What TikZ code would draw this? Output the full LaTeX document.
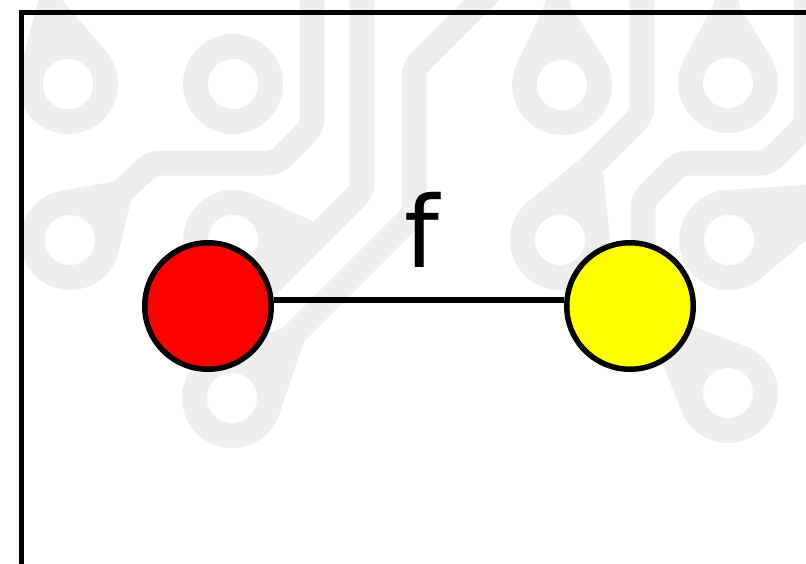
\documentclass[tikz,border=0pt]{standalone}
\usepackage{fontspec}
\setmainfont{DejaVu Sans}
\usetikzlibrary{calc}
\definecolor{tracegray}{RGB}{238,238,238}
\definecolor{nodered}{RGB}{255,0,0}
\definecolor{nodeyellow}{RGB}{255,255,0}
\tikzset{
  trace/.style={draw=tracegray, line width=25pt, line join=round, line cap=round, rounded corners=8pt},
  hole/.style={fill=white},
  vertex/.style={circle, draw=black, line width=5.5pt, minimum size=126.5pt, inner sep=0pt},
  edgeline/.style={draw=black, line width=5.5pt},
  flabel/.style={font=\fontsize{99}{110}\selectfont, anchor=base west, inner sep=0pt},
  frame/.style={draw=black, line width=4.8pt}
}
\newcommand\teardrop[2]{%
  \fill[tracegray] let \p1=($(#2)-(#1)$), \n1={veclen(\x1,\y1)}, \n2={acos(37/\n1)},
    \n3={\n2-180}, \n4={180-\n2}, \n5={-\n2} in
    ($(#1)!50pt!\n2:(#2)$) -- ($(#2)!12.5pt!\n3:(#1)$) -- ($(#2)!12.5pt!\n4:(#1)$) -- ($(#1)!50pt!\n5:(#2)$) -- cycle;
  \fill[tracegray] (#1) circle[radius=50pt];
  \fill[tracegray] (#2) circle[radius=12.5pt];
}
\begin{document}
\begin{tikzpicture}[x=1pt, y=-1pt]
\useasboundingbox (0,0) rectangle (806,563);
\clip (0,0) rectangle (806,563);
% background circuit traces
\draw[trace] (312,-20) -- (312,127) -- (276,163) -- (152,163) -- (120,193);
\draw[trace] (362,-20) -- (362,191) -- (250,303);
\draw[trace] (502,-20) -- (414,68) -- (414,214) -- (292,336);
\draw[trace] (642,-20) -- (642,115) -- (590,167);
\draw[trace] (806,-20) -- (806,125) -- (768,163) -- (680,163) -- (643,200) -- (643,310) -- (662,328);
\draw[trace] (50,5) -- (50,-20);
\draw[trace] (557,8) -- (557,-20);
\draw[trace] (726,8) -- (726,-20);
\draw[trace] (840,195) -- (900,170);
\teardrop{68,84}{50,5}
\teardrop{70,240}{120,193}
\teardrop{233,240}{315,236}
\teardrop{232,398}{292,338}
\teardrop{562,85}{557,8}
\teardrop{728,83}{726,8}
\teardrop{560,240}{590,167}
\teardrop{729,240}{840,195}
\teardrop{728,393}{662,328}
\fill[tracegray] (233,84) circle[radius=50pt];
% holes
\foreach \c in {(68,84),(233,84),(70,240),(233,240),(232,398),(562,85),(728,83),(560,240),(729,240),(728,393)}
  \fill[hole] \c circle[radius=25pt];
% frame
\draw[frame] (21.7,12.7) rectangle (900,700);
% graph
\node[vertex, fill=nodered] (r) at (208,306) {};
\node[vertex, fill=nodeyellow] (y) at (630,306) {};
\draw[edgeline] ([yshift=6pt]r.east) -- ([yshift=6pt]y.west);
\node[flabel] (flab) at (404.7,267) {f};
\end{tikzpicture}
\end{document}
